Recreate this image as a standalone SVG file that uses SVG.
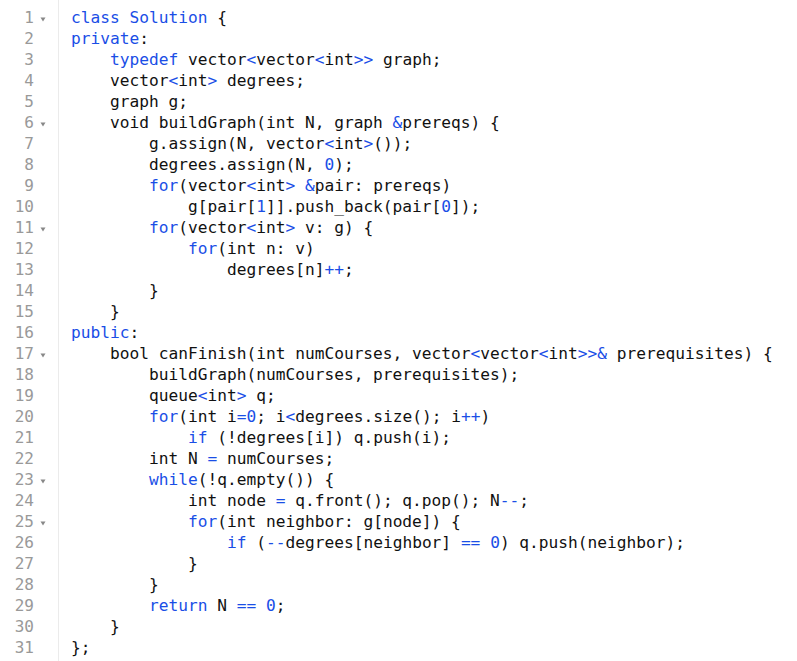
<svg xmlns="http://www.w3.org/2000/svg" width="797" height="661" viewBox="0 0 797 661">
<style>
.c{font-family:"DejaVu Sans Mono","Liberation Mono",monospace;font-size:16.2px;fill:#111;white-space:pre}
.n{font-family:"DejaVu Sans Mono","Liberation Mono",monospace;font-size:16px;fill:#999;text-anchor:end}
.k{fill:#1a4ee6}
.f{fill:#888}
</style>
<rect width="797" height="661" fill="#fff"/>
<line x1="58.5" y1="0" x2="58.5" y2="661" stroke="#ebebeb" stroke-width="1"/>
<g id="gutter">
<text class="n" x="34" y="23">1</text>
<text class="n" x="34" y="44">2</text>
<text class="n" x="34" y="65">3</text>
<text class="n" x="34" y="86">4</text>
<text class="n" x="34" y="107">5</text>
<text class="n" x="34" y="128">6</text>
<text class="n" x="34" y="149">7</text>
<text class="n" x="34" y="170">8</text>
<text class="n" x="34" y="191">9</text>
<text class="n" x="34" y="212">10</text>
<text class="n" x="34" y="233">11</text>
<text class="n" x="34" y="254">12</text>
<text class="n" x="34" y="275">13</text>
<text class="n" x="34" y="296">14</text>
<text class="n" x="34" y="317">15</text>
<text class="n" x="34" y="338">16</text>
<text class="n" x="34" y="359">17</text>
<text class="n" x="34" y="380">18</text>
<text class="n" x="34" y="401">19</text>
<text class="n" x="34" y="422">20</text>
<text class="n" x="34" y="443">21</text>
<text class="n" x="34" y="464">22</text>
<text class="n" x="34" y="485">23</text>
<text class="n" x="34" y="506">24</text>
<text class="n" x="34" y="527">25</text>
<text class="n" x="34" y="548">26</text>
<text class="n" x="34" y="569">27</text>
<text class="n" x="34" y="590">28</text>
<text class="n" x="34" y="611">29</text>
<text class="n" x="34" y="632">30</text>
<text class="n" x="34" y="653">31</text>
<polygon class="f" points="40.5,17.5 45.5,17.5 43,21.5"/>
<polygon class="f" points="40.5,122.5 45.5,122.5 43,126.5"/>
<polygon class="f" points="40.5,227.5 45.5,227.5 43,231.5"/>
<polygon class="f" points="40.5,353.5 45.5,353.5 43,357.5"/>
<polygon class="f" points="40.5,479.5 45.5,479.5 43,483.5"/>
<polygon class="f" points="40.5,521.5 45.5,521.5 43,525.5"/>
</g>
<g id="code" xml:space="preserve">
<text class="c" x="71" y="23"><tspan class="k">class Solution</tspan> {</text>
<text class="c" x="71" y="44"><tspan class="k">private</tspan>:</text>
<text class="c" x="71" y="65">    <tspan class="k">typedef</tspan> vector<tspan class="k">&lt;</tspan>vector<tspan class="k">&lt;</tspan>int<tspan class="k">&gt;&gt;</tspan> graph;</text>
<text class="c" x="71" y="86">    vector<tspan class="k">&lt;</tspan>int<tspan class="k">&gt;</tspan> degrees;</text>
<text class="c" x="71" y="107">    graph g;</text>
<text class="c" x="71" y="128">    void buildGraph(int N, graph <tspan class="k">&amp;</tspan>prereqs) {</text>
<text class="c" x="71" y="149">        g.assign(N, vector<tspan class="k">&lt;</tspan>int<tspan class="k">&gt;</tspan>());</text>
<text class="c" x="71" y="170">        degrees.assign(N, <tspan class="k">0</tspan>);</text>
<text class="c" x="71" y="191">        <tspan class="k">for</tspan>(vector<tspan class="k">&lt;</tspan>int<tspan class="k">&gt;</tspan> <tspan class="k">&amp;</tspan>pair: prereqs)</text>
<text class="c" x="71" y="212">            g[pair[<tspan class="k">1</tspan>]].push_back(pair[<tspan class="k">0</tspan>]);</text>
<text class="c" x="71" y="233">        <tspan class="k">for</tspan>(vector<tspan class="k">&lt;</tspan>int<tspan class="k">&gt;</tspan> v: g) {</text>
<text class="c" x="71" y="254">            <tspan class="k">for</tspan>(int n: v)</text>
<text class="c" x="71" y="275">                degrees[n]<tspan class="k">++</tspan>;</text>
<text class="c" x="71" y="296">        }</text>
<text class="c" x="71" y="317">    }</text>
<text class="c" x="71" y="338"><tspan class="k">public</tspan>:</text>
<text class="c" x="71" y="359">    bool canFinish(int numCourses, vector<tspan class="k">&lt;</tspan>vector<tspan class="k">&lt;</tspan>int<tspan class="k">&gt;&gt;&amp;</tspan> prerequisites) {</text>
<text class="c" x="71" y="380">        buildGraph(numCourses, prerequisites);</text>
<text class="c" x="71" y="401">        queue<tspan class="k">&lt;</tspan>int<tspan class="k">&gt;</tspan> q;</text>
<text class="c" x="71" y="422">        <tspan class="k">for</tspan>(int i<tspan class="k">=0</tspan>; i<tspan class="k">&lt;</tspan>degrees.size(); i<tspan class="k">++</tspan>)</text>
<text class="c" x="71" y="443">            <tspan class="k">if</tspan> (!degrees[i]) q.push(i);</text>
<text class="c" x="71" y="464">        int N <tspan class="k">=</tspan> numCourses;</text>
<text class="c" x="71" y="485">        <tspan class="k">while</tspan>(!q.empty()) {</text>
<text class="c" x="71" y="506">            int node <tspan class="k">=</tspan> q.front(); q.pop(); N<tspan class="k">--</tspan>;</text>
<text class="c" x="71" y="527">            <tspan class="k">for</tspan>(int neighbor: g[node]) {</text>
<text class="c" x="71" y="548">                <tspan class="k">if</tspan> (<tspan class="k">--</tspan>degrees[neighbor] <tspan class="k">==</tspan> <tspan class="k">0</tspan>) q.push(neighbor);</text>
<text class="c" x="71" y="569">            }</text>
<text class="c" x="71" y="590">        }</text>
<text class="c" x="71" y="611">        <tspan class="k">return</tspan> N <tspan class="k">==</tspan> <tspan class="k">0</tspan>;</text>
<text class="c" x="71" y="632">    }</text>
<text class="c" x="71" y="653">};</text>
</g>
</svg>
